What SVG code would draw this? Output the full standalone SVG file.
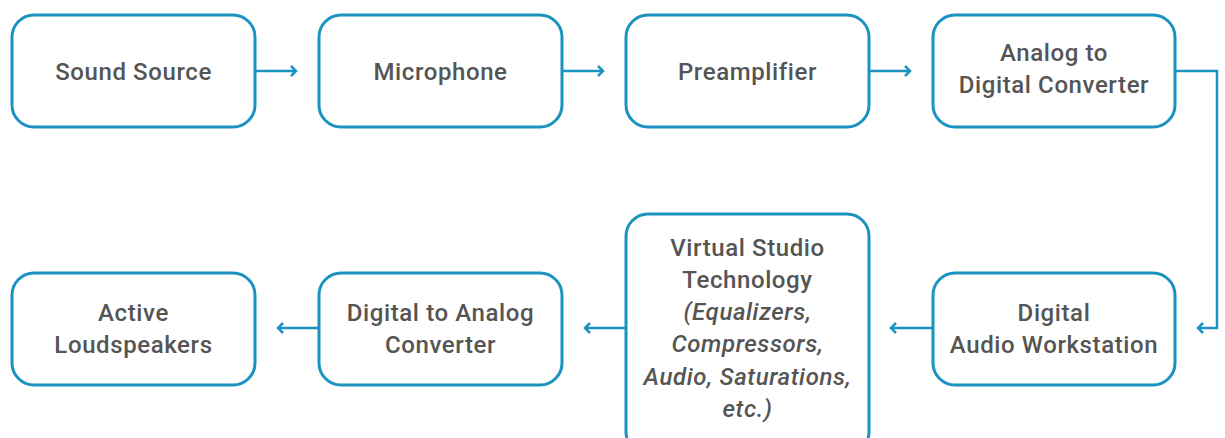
<svg xmlns="http://www.w3.org/2000/svg" width="1225" height="438" viewBox="0 0 1225 438">
<defs>
<style>
.box{fill:#fff;stroke:#1b93c1;stroke-width:3}
.t{font-family:Roboto,"Liberation Sans",sans-serif;font-weight:500;font-size:24px;letter-spacing:0.6px;fill:#555;text-anchor:middle}
.i{font-style:italic}
.c{fill:none;stroke:#1b93c1;stroke-width:2.5}
</style>
<marker id="ah" markerWidth="10" markerHeight="12" refX="7" refY="6" orient="auto" markerUnits="userSpaceOnUse">
<path d="M2,1 L7,6 L2,11" fill="none" stroke="#1b93c1" stroke-width="2.5"/>
</marker>
</defs>
<rect width="1225" height="438" fill="#fff"/>
<g id="connectors">
<path class="c" d="M255,71 H296" marker-end="url(#ah)"/>
<path class="c" d="M562,71 H603" marker-end="url(#ah)"/>
<path class="c" d="M869,71 H910" marker-end="url(#ah)"/>
<path class="c" d="M1175,71 H1217 V328 H1198" marker-end="url(#ah)"/>
<path class="c" d="M933,328 H891" marker-end="url(#ah)"/>
<path class="c" d="M626,328 H585" marker-end="url(#ah)"/>
<path class="c" d="M319,328 H278" marker-end="url(#ah)"/>
</g>
<g id="sound-source"><rect class="box" x="12" y="15" width="243" height="112" rx="22"/><text class="t" x="133.5" y="80">Sound Source</text></g>
<g id="microphone"><rect class="box" x="319" y="15" width="243" height="112" rx="22"/><text class="t" x="440.5" y="80">Microphone</text></g>
<g id="preamplifier"><rect class="box" x="626" y="15" width="243" height="112" rx="22"/><text class="t" x="747.5" y="80">Preamplifier</text></g>
<g id="adc"><rect class="box" x="933" y="15" width="242" height="112" rx="22"/><text class="t" x="1054" y="61">Analog to</text><text class="t" x="1054" y="93">Digital Converter</text></g>
<g id="daw"><rect class="box" x="933" y="273" width="242" height="112" rx="22"/><text class="t" x="1054" y="321">Digital</text><text class="t" x="1054" y="353">Audio Workstation</text></g>
<g id="vst"><rect class="box" x="626" y="214" width="243" height="240" rx="22"/>
<text class="t" x="747.5" y="256">Virtual Studio</text>
<text class="t" x="747.5" y="288">Technology</text>
<text class="t i" x="747.5" y="320">(Equalizers,</text>
<text class="t i" x="747.5" y="352">Compressors,</text>
<text class="t i" x="747.5" y="385">Audio, Saturations,</text>
<text class="t i" x="747.5" y="417">etc.)</text></g>
<g id="dac"><rect class="box" x="319" y="273" width="243" height="112" rx="22"/><text class="t" x="440.5" y="321">Digital to Analog</text><text class="t" x="440.5" y="353">Converter</text></g>
<g id="speakers"><rect class="box" x="12" y="273" width="243" height="112" rx="22"/><text class="t" x="133.5" y="321">Active</text><text class="t" x="133.5" y="353">Loudspeakers</text></g>
</svg>
